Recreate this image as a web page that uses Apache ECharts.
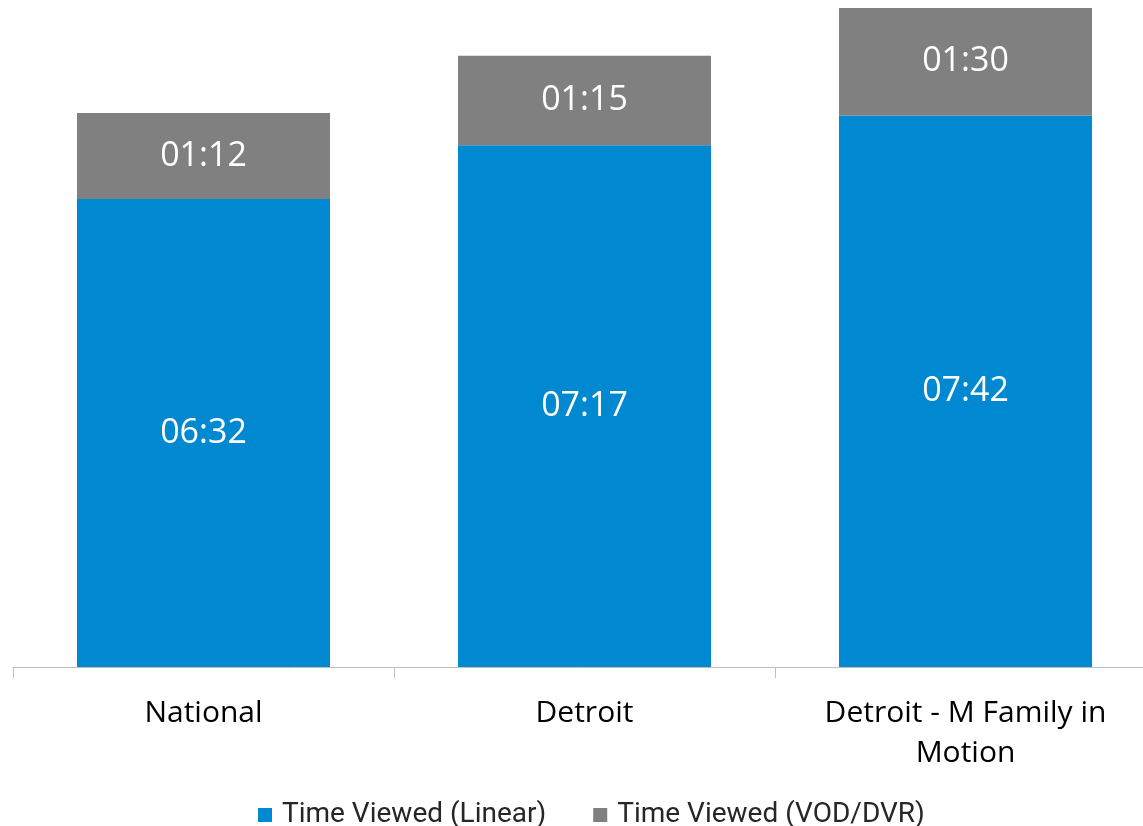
<!DOCTYPE html>
<html>
<head>
    <meta charset="utf-8">
    <title>Time Viewed</title>
    <script src="https://cdn.jsdelivr.net/npm/echarts@6/dist/echarts.min.js"></script>
    <style>
        html, body { margin: 0; padding: 0; background: #fff; }
        #chart { width: 1143px; height: 826px; }
    </style>
</head>
<body>
<div id="chart"></div>
<script type="text/javascript">
    // values in minutes (hh:mm shown in labels)
    var categories = ['National', 'Detroit', 'Detroit - M Family in\nMotion'];
    var linearMinutes = [392, 437, 462];   // 06:32, 07:17, 07:42
    var vodMinutes = [72, 75, 90];         // 01:12, 01:15, 01:30
    var seriesNames = ['Time Viewed (Linear)', 'Time Viewed (VOD/DVR)'];

    function fmt(m) {
        var h = Math.floor(m / 60), mm = m % 60;
        return (h < 10 ? '0' : '') + h + ':' + (mm < 10 ? '0' : '') + mm;
    }

    var myChart = echarts.init(document.getElementById('chart'));
    var font = '"Open Sans", "Noto Sans", sans-serif';
    var option = {
        animation: false,
        textStyle: { fontFamily: font },
        grid: { left: 13, top: 8, width: 1143, height: 659, outerBoundsMode: 'none', containLabel: false },
        legend: {
            top: 796,
            left: 253,
            itemWidth: 14,
            itemHeight: 14,
            itemGap: 47,
            icon: 'rect',
            textStyle: { fontSize: 28, color: '#262626', fontFamily: 'Roboto, sans-serif', padding: [0, 0, 0, 5] }
        },
        xAxis: {
            type: 'category',
            data: categories,
            axisLine: { lineStyle: { color: '#bfbfbf', width: 1 } },
            axisTick: { show: true, length: 11, lineStyle: { color: '#bfbfbf' } },
            axisLabel: { fontSize: 30, color: '#000', margin: 26, lineHeight: 40, fontFamily: font }
        },
        yAxis: {
            type: 'value',
            min: 0,
            max: 552,
            show: false,
            splitLine: { show: false }
        },
        series: [
            {
                name: seriesNames[0],
                type: 'bar',
                stack: 'total',
                barWidth: 253,
                data: linearMinutes,
                itemStyle: { color: '#0088d1' },
                label: {
                    show: true,
                    position: 'inside',
                    color: '#fff',
                    fontSize: 34,
                    fontFamily: font,
                    formatter: function (p) { return fmt(p.value); }
                }
            },
            {
                name: seriesNames[1],
                type: 'bar',
                stack: 'total',
                barWidth: 253,
                data: vodMinutes,
                itemStyle: { color: '#808080' },
                label: {
                    show: true,
                    position: 'inside',
                    color: '#fff',
                    fontSize: 34,
                    fontFamily: font,
                    formatter: function (p) { return fmt(p.value); }
                }
            }
        ]
    };
    myChart.setOption(option);
    window.addEventListener('resize', myChart.resize);
</script>
</body>
</html>
